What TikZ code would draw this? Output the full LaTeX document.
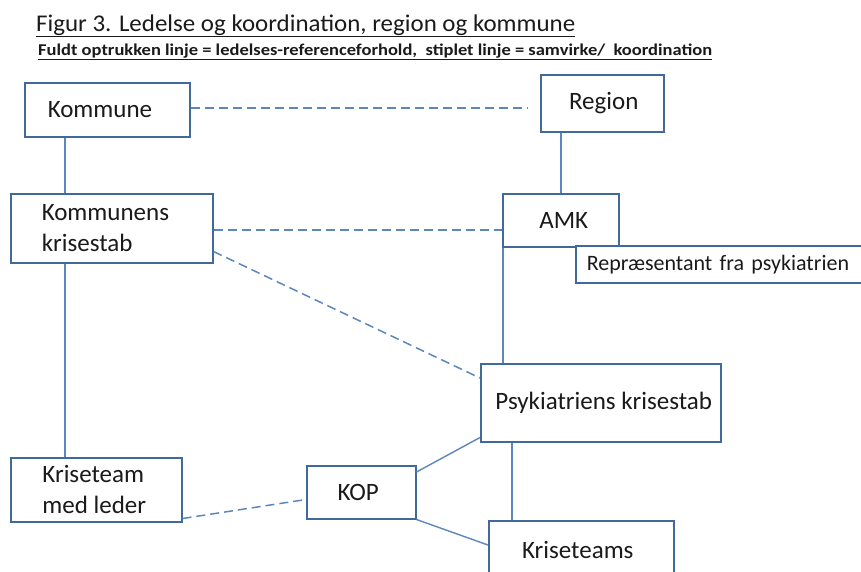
\documentclass[tikz,border=0pt]{standalone}
\usepackage{fontspec}
\setmainfont{Carlito}
\definecolor{boxline}{HTML}{42699B}
\definecolor{conn}{HTML}{5B86BE}
\definecolor{txt}{HTML}{1A1A1A}
\begin{document}
\begin{tikzpicture}[x=1pt,y=-1pt,
  box/.style={draw=boxline, line width=1.5pt, fill=white, text=txt, inner sep=0pt,
    font=\fontsize{25}{31}\selectfont, anchor=north west},
  solidcon/.style={draw=conn, line width=1.4pt},
  dashcon/.style={draw=conn, line width=1.5pt, dash pattern=on 9pt off 5pt}]
\useasboundingbox (0,0) rectangle (861,571);
% title
\node[anchor=base west, inner sep=0pt, text=txt, font=\fontsize{24}{28}\selectfont] (title) at (36,31)
  {\resizebox{539pt}{\height}{\underline{Figur 3. Ledelse og koordination, region og kommune}}};
\node[anchor=base west, inner sep=0pt, text=txt, font=\fontsize{16.5}{19}\selectfont\bfseries] (sub) at (38,55)
  {\resizebox{674pt}{\height}{\underline{Fuldt optrukken linje = ledelses-referenceforhold,\ \ stiplet linje = samvirke/\ \ koordination}}};
% boxes
\node[box, minimum width=165pt, minimum height=54pt, align=left, text width=119pt] (kommune) at (24,82) {Kommune};
\node[box, minimum width=123pt, minimum height=57pt] (region) at (540,74) {\hspace*{3pt}Region};
\node[box, minimum width=202pt, minimum height=69pt, align=left, text width=140pt] (kkrise) at (10,193) {Kommunens\\krisestab};
\node[box, minimum width=116pt, minimum height=53pt] (amk) at (502,193) {\hspace*{6pt}AMK};
\node[box, minimum width=300pt, minimum height=37pt, align=left, text width=278pt,
  font=\fontsize{22}{26}\selectfont] (rep) at (575,245) {Repræsentant fra psykiatrien};
\node[box, minimum width=240pt, minimum height=78pt] (psyk) at (480,363) {\hspace*{6pt}Psykiatriens krisestab};
\node[box, minimum width=171pt, minimum height=64pt, align=left] (kteam) at (10,457) {Kriseteam\\med leder\hspace*{4pt}};
\node[box, minimum width=109pt, minimum height=53pt] (kop) at (306,465) {\hspace*{-6pt}KOP};
\node[box, minimum width=185pt, minimum height=58pt] (kteams) at (488,520) {\hspace*{-7pt}Kriseteams};
% solid connectors
\draw[solidcon] ([xshift=41pt]kommune.south west) -- ([xshift=41pt]kommune.south west |- kkrise.north);
\draw[solidcon] ([xshift=55pt]kkrise.south west) -- ([xshift=55pt]kkrise.south west |- kteam.north);
\draw[solidcon] ([xshift=21pt]region.south west) -- ([xshift=21pt]region.south west |- amk.north);
\draw[solidcon] ([xshift=1pt]amk.south west) -- ([xshift=1pt]amk.south west |- psyk.north);
\draw[solidcon] ([xshift=32pt]psyk.south west) -- ([xshift=32pt]psyk.south west |- kteams.north);
\draw[solidcon] ([yshift=-7pt]kop.north east) -- ([yshift=5pt]psyk.south west);
\draw[solidcon] (kop.south east) -- ([yshift=-25pt]kteams.north west);
% dashed connectors
\draw[dashcon] ([yshift=2pt]kommune.east) -- ([yshift=2pt,xshift=-13pt]kommune.east -| region.west);
\draw[dashcon] ([yshift=-1.5pt]kkrise.east) -- ([yshift=-1.5pt]kkrise.east -| amk.west);
\draw[dashcon] ([yshift=12pt]kkrise.south east) -- ([yshift=-15pt]psyk.north west);
\draw[dashcon] ([yshift=4pt]kteam.south east) -- ([yshift=20pt]kop.south west);
\end{tikzpicture}
\end{document}
